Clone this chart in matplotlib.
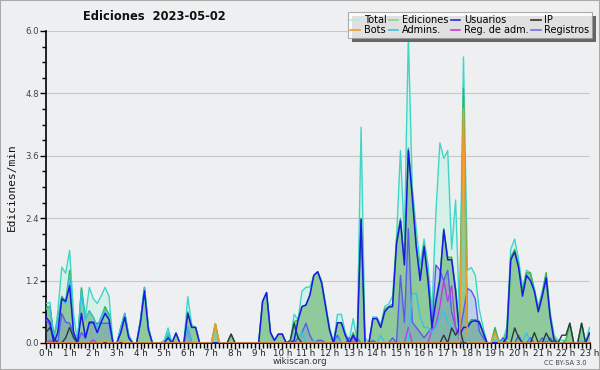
import numpy as np
import matplotlib
matplotlib.use("Agg")
import matplotlib.pyplot as plt
from matplotlib.lines import Line2D
from matplotlib.patches import Rectangle
from matplotlib.ticker import MultipleLocator, FixedLocator

# ---- data: edits per minute, 10-minute steps from 0:00 to 23:00 ----
total = [
    0.76, 0.78, 0.0, 0.6, 1.46, 1.34,
    1.78, 0.57, 0.0, 1.07, 0.5, 1.07,
    0.85, 0.76, 0.9, 1.07, 0.9, 0.0,
    0.0, 0.3, 0.57, 0.15, 0.0, 0.0,
    0.45, 1.07, 0.3, 0.0, 0.0, 0.0,
    0.05, 0.29, 0.0, 0.19, 0.0, 0.0,
    0.89, 0.35, 0.3, 0.0, 0.0, 0.0,
    0.0, 0.37, 0.0, 0.0, 0.0, 0.17,
    0.0, 0.0, 0.0, 0.0, 0.0, 0.0,
    0.0, 0.8, 0.97, 0.2, 0.05, 0.17,
    0.17, 0.0, 0.0, 0.55, 0.45, 1.0,
    1.07, 1.08, 1.3, 1.37, 1.2, 0.76,
    0.3, 0.0, 0.55, 0.55, 0.2, 0.05,
    0.47, 0.05, 4.15, 0.1, 0.0, 0.5,
    0.5, 0.35, 0.7, 0.75, 0.9, 2.0,
    3.7, 2.0, 5.9, 3.0, 2.2, 1.5,
    2.0, 1.5, 0.6, 2.5, 3.85, 3.55,
    3.7, 1.8, 2.75, 0.5, 5.5, 1.4,
    1.45, 1.3, 0.65, 0.3, 0.0, 0.0,
    0.3, 0.05, 0.05, 0.3, 1.8, 2.0,
    1.6, 1.05, 1.4, 1.35, 1.05, 0.7,
    1.0, 1.35, 0.6, 0.15, 0.05, 0.05,
    0.05, 0.38, 0.0, 0.0, 0.38, 0.0,
    0.3,
]
ediciones = [
    0.7, 0.7, 0.15, 0.45, 0.9, 0.8,
    1.4, 0.2, 0.0, 1.05, 0.45, 0.62,
    0.5, 0.3, 0.5, 0.7, 0.55, 0.0,
    0.0, 0.3, 0.57, 0.15, 0.0, 0.0,
    0.45, 1.07, 0.3, 0.0, 0.0, 0.0,
    0.0, 0.15, 0.0, 0.19, 0.0, 0.0,
    0.6, 0.3, 0.3, 0.0, 0.0, 0.0,
    0.0, 0.37, 0.0, 0.0, 0.0, 0.17,
    0.0, 0.0, 0.0, 0.0, 0.0, 0.0,
    0.0, 0.8, 0.97, 0.2, 0.05, 0.17,
    0.17, 0.0, 0.0, 0.41, 0.44, 0.7,
    0.73, 0.92, 1.3, 1.37, 1.15, 0.7,
    0.25, 0.0, 0.39, 0.39, 0.15, 0.0,
    0.2, 0.0, 2.4, 0.0, 0.0, 0.47,
    0.47, 0.3, 0.65, 0.7, 0.75, 2.0,
    2.4, 1.6, 3.75, 2.9, 1.9, 1.3,
    1.9, 1.3, 0.35, 0.85, 1.25, 2.2,
    1.65, 1.65, 1.05, 0.25, 4.9, 0.35,
    0.45, 0.45, 0.42, 0.2, 0.0, 0.0,
    0.29, 0.0, 0.0, 0.2, 1.65, 1.8,
    1.5, 1.0, 1.35, 1.35, 1.0, 0.65,
    0.95, 1.35, 0.55, 0.1, 0.0, 0.0,
    0.05, 0.38, 0.0, 0.0, 0.38, 0.0,
    0.2,
]
usuarios = [
    0.5, 0.4, 0.0, 0.2, 0.85, 0.8,
    1.1, 0.2, 0.0, 0.57, 0.1, 0.4,
    0.4, 0.2, 0.4, 0.57, 0.45, 0.0,
    0.0, 0.2, 0.5, 0.1, 0.0, 0.0,
    0.4, 1.0, 0.25, 0.0, 0.0, 0.0,
    0.0, 0.1, 0.0, 0.19, 0.0, 0.0,
    0.57, 0.3, 0.3, 0.0, 0.0, 0.0,
    0.0, 0.0, 0.0, 0.0, 0.0, 0.0,
    0.0, 0.0, 0.0, 0.0, 0.0, 0.0,
    0.0, 0.8, 0.97, 0.2, 0.05, 0.17,
    0.17, 0.0, 0.0, 0.05, 0.44, 0.7,
    0.73, 0.92, 1.3, 1.37, 1.15, 0.7,
    0.25, 0.0, 0.39, 0.39, 0.15, 0.0,
    0.15, 0.0, 2.38, 0.0, 0.0, 0.47,
    0.47, 0.3, 0.6, 0.69, 0.7, 1.9,
    2.35, 1.5, 3.7, 2.8, 1.85, 1.2,
    1.85, 1.2, 0.3, 0.8, 1.2, 2.17,
    1.6, 1.6, 1.0, 0.15, 0.3, 0.3,
    0.41, 0.43, 0.4, 0.2, 0.0, 0.0,
    0.0, 0.0, 0.0, 0.1, 1.6, 1.75,
    1.45, 0.9, 1.3, 1.2, 1.0, 0.6,
    0.9, 1.25, 0.5, 0.05, 0.0, 0.0,
    0.0, 0.0, 0.0, 0.0, 0.0, 0.0,
    0.19,
]
ip = [
    0.2, 0.3, 0.1, 0.0, 0.0, 0.1,
    0.3, 0.1, 0.0, 0.0, 0.0, 0.0,
    0.0, 0.0, 0.0, 0.0, 0.0, 0.0,
    0.0, 0.0, 0.0, 0.0, 0.0, 0.0,
    0.0, 0.0, 0.0, 0.0, 0.0, 0.0,
    0.0, 0.0, 0.0, 0.0, 0.0, 0.0,
    0.0, 0.0, 0.0, 0.0, 0.0, 0.0,
    0.0, 0.0, 0.0, 0.0, 0.0, 0.17,
    0.0, 0.0, 0.0, 0.0, 0.0, 0.0,
    0.0, 0.0, 0.0, 0.0, 0.0, 0.0,
    0.0, 0.0, 0.05, 0.38, 0.1, 0.0,
    0.0, 0.0, 0.0, 0.0, 0.0, 0.0,
    0.0, 0.0, 0.0, 0.0, 0.0, 0.0,
    0.0, 0.0, 0.0, 0.0, 0.0, 0.0,
    0.0, 0.0, 0.0, 0.0, 0.0, 0.0,
    0.0, 0.0, 0.0, 0.0, 0.0, 0.0,
    0.0, 0.0, 0.0, 0.0, 0.0, 0.15,
    0.0, 0.29, 0.15, 0.29, 0.0, 0.0,
    0.0, 0.0, 0.0, 0.0, 0.0, 0.0,
    0.0, 0.0, 0.0, 0.0, 0.0, 0.29,
    0.1, 0.0, 0.0, 0.0, 0.2, 0.0,
    0.0, 0.19, 0.05, 0.0, 0.0, 0.15,
    0.15, 0.38, 0.0, 0.0, 0.38, 0.0,
    0.0,
]
bots = [0.0] * 139
for _i, _v in [(15, 0.06), (19, 0.05), (43, 0.37), (106, 4.5), (114, 0.2)]:
    bots[_i] = _v
admins = [
    0.65, 0.7, 0.1, 0.45, 0.85, 0.75,
    1.3, 0.2, 0.0, 1.0, 0.45, 0.6,
    0.5, 0.3, 0.5, 0.65, 0.5, 0.0,
    0.0, 0.3, 0.57, 0.15, 0.0, 0.0,
    0.45, 1.07, 0.3, 0.0, 0.0, 0.0,
    0.0, 0.2, 0.0, 0.0, 0.0, 0.0,
    0.3, 0.0, 0.0, 0.0, 0.0, 0.0,
    0.0, 0.0, 0.0, 0.0, 0.0, 0.0,
    0.0, 0.0, 0.0, 0.0, 0.0, 0.0,
    0.0, 0.0, 0.0, 0.0, 0.0, 0.0,
    0.0, 0.0, 0.0, 0.3, 0.1, 0.2,
    0.0, 0.0, 0.05, 0.0, 0.0, 0.0,
    0.0, 0.0, 0.1, 0.0, 0.0, 0.0,
    0.0, 0.05, 0.0, 0.0, 0.0, 0.0,
    0.0, 0.15, 0.0, 0.0, 0.0, 0.0,
    0.0, 0.0, 0.0, 0.95, 0.95, 0.5,
    0.3, 0.3, 0.2, 0.3, 0.5, 0.6,
    0.4, 0.3, 0.2, 0.1, 0.0, 0.1,
    0.0, 0.0, 0.0, 0.0, 0.0, 0.0,
    0.05, 0.05, 0.0, 0.0, 0.0, 0.0,
    0.0, 0.0, 0.2, 0.0, 0.0, 0.0,
    0.0, 0.1, 0.0, 0.0, 0.0, 0.0,
    0.0, 0.0, 0.0, 0.0, 0.05, 0.0,
    0.0,
]
reg_adm = [0.0] * 139
for _i, _v in [(1, 0.05), (12, 0.06), (36, 0.29), (78, 0.1), (92, 0.3),
               (98, 0.25), (99, 0.35), (100, 0.7), (101, 1.2), (102, 0.8),
               (103, 1.1), (104, 0.3), (105, 0.05)]:
    reg_adm[_i] = _v
registros = [
    0.45, 0.35, 0.0, 0.0, 0.57, 0.4,
    0.38, 0.2, 0.0, 0.2, 0.1, 0.38,
    0.38, 0.38, 0.38, 0.38, 0.38, 0.0,
    0.0, 0.0, 0.0, 0.0, 0.0, 0.0,
    0.0, 0.0, 0.0, 0.0, 0.0, 0.0,
    0.0, 0.0, 0.0, 0.0, 0.0, 0.0,
    0.3, 0.0, 0.0, 0.0, 0.0, 0.0,
    0.0, 0.0, 0.0, 0.0, 0.0, 0.0,
    0.0, 0.0, 0.0, 0.0, 0.0, 0.0,
    0.0, 0.0, 0.0, 0.0, 0.0, 0.0,
    0.0, 0.0, 0.0, 0.0, 0.1, 0.2,
    0.38, 0.15, 0.0, 0.05, 0.05, 0.0,
    0.0, 0.0, 0.15, 0.0, 0.0, 0.1,
    0.0, 0.1, 0.0, 0.0, 0.0, 0.05,
    0.0, 0.0, 0.0, 0.0, 0.1, 0.0,
    1.3, 0.4, 2.2, 0.4, 0.3, 0.2,
    0.1, 0.2, 0.3, 1.5, 1.4, 1.2,
    1.4, 0.6, 0.3, 0.2, 0.6, 1.05,
    1.0, 0.85, 0.23, 0.1, 0.0, 0.0,
    0.0, 0.0, 0.1, 0.0, 0.0, 0.0,
    0.15, 0.0, 0.0, 0.1, 0.0, 0.0,
    0.1, 0.0, 0.1, 0.0, 0.0, 0.0,
    0.0, 0.0, 0.0, 0.0, 0.0, 0.0,
    0.0,
]
hour_labels = [f"{h} h" for h in range(24)]
title = "Ediciones  2023-05-02"

hours = np.arange(len(total)) / 6.0

BG = "#eeeff1"
fig = plt.figure(figsize=(6.0, 3.7), dpi=100, facecolor=BG)
ax = fig.add_axes([46 / 600, 1 - 343 / 370, (589.5 - 46) / 600, (343 - 31) / 370])
ax.set_facecolor(BG)

# fills
ax.fill_between(hours, total, color="#d6efe9", lw=0, zorder=1)
ax.fill_between(hours, ediciones, color="#8fca9b", lw=0, zorder=2)
ax.fill_between(hours, registros, color="#5a6ae6", alpha=0.22, lw=0, zorder=3)

# lines
ax.plot(hours, total, color="#3fd6c8", lw=1.0, zorder=4)
ax.plot(hours, ediciones, color="#3cb44a", lw=1.0, zorder=5)
ax.plot(hours, registros, color="#5a5af0", lw=1.0, zorder=6)
ax.plot(hours, reg_adm, color="#b83ee6", lw=1.0, zorder=7)
ax.plot(hours, admins, color="#36c4e4", lw=1.0, zorder=8)
ax.plot(hours, ip, color="#2a3a3a", lw=1.0, zorder=9)
ax.plot(hours, usuarios, color="#1a1ae6", lw=1.1, zorder=10)
ax.plot(hours, bots, color="#f09a2a", lw=1.1, zorder=11)

ax.set_xlim(0, 23)
ax.set_ylim(0, 6.0)

ax.yaxis.set_minor_locator(MultipleLocator(0.3))
ax.xaxis.set_major_locator(FixedLocator(list(range(24))))
ax.xaxis.set_minor_locator(MultipleLocator(1 / 6))
ax.set_xticklabels(hour_labels)
ax.set_yticks([0, 1.2, 2.4, 3.6, 4.8, 6.0])
ax.set_yticklabels(["0.0", "1.2", "2.4", "3.6", "4.8", "6.0"])

ax.grid(axis="y", which="major", color="#c8c8c8", lw=0.8, zorder=0)
ax.set_axisbelow(True)
for s in ("top", "right"):
    ax.spines[s].set_visible(False)
ax.spines["left"].set_color("black")
ax.spines["bottom"].set_color("black")
ax.spines["left"].set_linewidth(1.2)
ax.spines["bottom"].set_linewidth(1.2)

ax.tick_params(axis="x", which="major", length=4.5, width=1, pad=0, labelsize=6.3,
               colors="black", labelcolor="#222222")
ax.tick_params(axis="x", which="minor", length=3.5, width=1, colors="black")
ax.tick_params(axis="y", which="major", length=4, width=1, pad=1, labelsize=6.2,
               labelcolor="#444444")
ax.tick_params(axis="y", which="minor", length=3, width=1)

fig.text(154 / 600, 1 - 17 / 370, title, ha="center", va="center", fontsize=8.3,
         fontweight="bold", color="#111111")
fig.text(12 / 600, 1 - 187 / 370, "Ediciones/min", rotation=90, ha="center", va="center",
         fontsize=8, family="DejaVu Sans Mono", color="#111111")
fig.text(300 / 600, 1 - 362 / 370, "wikiscan.org", ha="center", va="center", fontsize=6.3,
         color="#333333")
fig.text(565 / 600, 1 - 363 / 370, "CC BY-SA 3.0", ha="center", va="center", fontsize=4.8,
         color="#444444")

# legend
names = ["Total", "Bots", "Ediciones", "Admins.", "Usuarios", "Reg. de adm.", "IP", "Registros"]
cols = ["#b4ebe2", "#f09a2a", "#86d48c", "#36c4e4", "#2a2ae0", "#c040e0", "#333333", "#7070e8"]
handles = [Line2D([0], [0], color=c, lw=1.2) for c in cols]
leg = fig.legend(handles, names, ncol=4, loc="upper right",
                 bbox_to_anchor=(592 / 600, 1 - 12 / 370), fontsize=7.0,
                 frameon=True, fancybox=False, shadow=False, handlelength=1.0,
                 handletextpad=0.35, columnspacing=0.25, labelspacing=0.05,
                 borderpad=0.3, borderaxespad=0)
leg.get_frame().set_edgecolor("#999999")
leg.get_frame().set_facecolor("white")
leg.get_frame().set_linewidth(0.8)
leg.set_zorder(20)
fig.canvas.draw()
bb = leg.get_window_extent()
inv = fig.transFigure.inverted()
(x0, y0), (x1, y1) = inv.transform([(bb.x0, bb.y0), (bb.x1, bb.y1)])
fig.patches.append(Rectangle((x0 + 4 / 600, y0 - 4 / 370), x1 - x0, y1 - y0,
                             transform=fig.transFigure, facecolor="#666666",
                             edgecolor="none", zorder=19))

fig.patches.append(Rectangle((0, 0), 1, 1, transform=fig.transFigure, fill=False,
                             edgecolor="#aaaaaa", lw=1.5, zorder=30))

fig.savefig("out.png", dpi=100, facecolor=BG)
